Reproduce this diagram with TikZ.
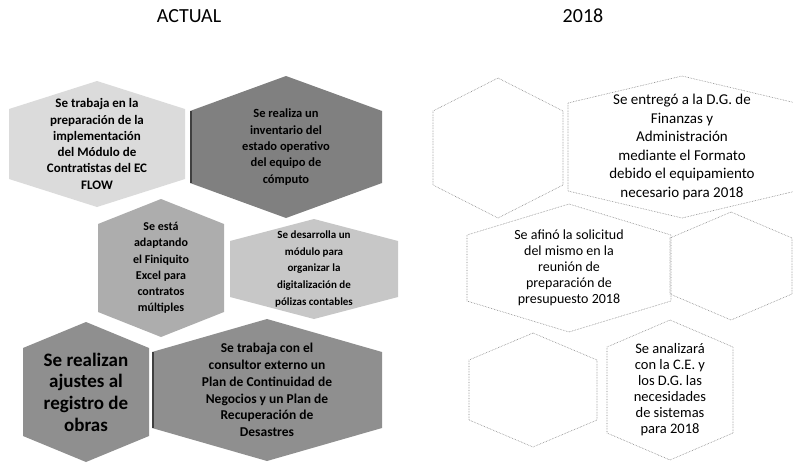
\documentclass[tikz,border=0pt]{standalone}
\usepackage{fontspec}
\setmainfont{Carlito}
\usetikzlibrary{calc,backgrounds}
\definecolor{celllight}{gray}{0.86}
\definecolor{cellmid}{gray}{0.68}
\definecolor{cellpale}{gray}{0.78}
\definecolor{celldark}{gray}{0.50}
\definecolor{celldeep}{gray}{0.56}
\tikzstyle{every node}+=[inner sep=0mm,align=center]
\tikzstyle{head}=[font=\fontsize{20}{24}\selectfont]
\tikzstyle{bold text}=[font=\bfseries\fontsize{12.5}{16.3}\selectfont]
\tikzstyle{big text}=[font=\bfseries\fontsize{19}{21.7}\selectfont]
\tikzstyle{plain text}=[font=\fontsize{14.5}{16}\selectfont]
\tikzstyle{open cell}=[draw=gray,densely dotted,line width=0.6pt]
\tikzstyle{shade edge}=[draw=black!75,line width=1.2pt]
% hexagon round a node: style, node, half width, half side, half height
\newcommand{\hexcell}[5]{%
  \path[#1] ($(#2)+(0,-#5)$) -- ($(#2)+(#3,-#4)$) -- ($(#2)+(#3,#4)$)
    -- ($(#2)+(0,#5)$) -- ($(#2)+(-#3,#4)$) -- ($(#2)+(-#3,-#4)$) -- cycle;}

\begin{document}
\begin{tikzpicture}[x=1pt,y=-1pt]
\useasboundingbox (0,0) rectangle (793,463);

\node[head] (actual) at (189,16) {ACTUAL};
\node[head] (year) at (583,16) {2018};

% actual
\node[bold text,font=\bfseries\fontsize{13}{16.3}\selectfont] (flow) at (97,144) {Se trabaja en la\\preparación de la\\implementación\\del Módulo de\\Contratistas del EC\\FLOW};
\node[bold text] (inv) at (286,147) {Se realiza un\\inventario del\\estado operativo\\del equipo de\\cómputo};
\node[bold text,font=\bfseries\fontsize{12}{16.2}\selectfont] (fin) at (161,268) {Se está\\adaptando\\el Finiquito\\Excel para\\contratos\\múltiples};
\node[bold text,font=\bfseries\fontsize{11}{16.7}\selectfont] (pol) at (314,269) {Se desarrolla un\\módulo para\\organizar la\\digitalización de\\pólizas contables};
\node[big text] (obras) at (86,392) {Se realizan\\ajustes al\\registro de\\obras};
\node[bold text,font=\bfseries\fontsize{13.5}{16.8}\selectfont] (plan) at (267,390) {Se trabaja con el\\consultor externo un\\Plan de Continuidad de\\Negocios y un Plan de\\Recuperación de\\Desastres};

% 2018
\coordinate (e1) at (498,148);
\node[plain text,font=\fontsize{15}{18.6}\selectfont] (equipo) at (682,147) {Se entregó a la D.G. de\\Finanzas y\\Administración\\mediante el Formato\\debido el equipamiento\\necesario para 2018};
\node[plain text,font=\fontsize{14}{16}\selectfont] (pres) at (569,268) {Se afinó la solicitud\\del mismo en la\\reunión de\\preparación de\\presupuesto 2018};
\coordinate (e2) at (731,266);
\coordinate (e3) at (533,390);
\node[plain text] (sis) at (670,390) {Se analizará\\con la C.E. y\\los D.G. las\\necesidades\\de sistemas\\para 2018};

\begin{scope}[on background layer]
\hexcell{fill=celllight}{flow}{88}{35}{63}
\hexcell{fill=celldark}{inv}{96}{36}{71}
\hexcell{fill=cellmid}{fin}{63}{44}{69}
\hexcell{fill=cellpale}{pol}{84}{28}{50}
\hexcell{fill=celldeep}{obras}{63}{44}{70}
\hexcell{fill=celldeep}{plan}{115}{38}{71}
\draw[shade edge] ($(inv)+(-95,-36)$) -- ($(inv)+(-95,36)$);
\draw[shade edge] ($(plan)+(-114,-38)$) -- ($(plan)+(-114,38)$);
\hexcell{open cell}{e1}{65}{37}{70}
\hexcell{open cell}{equipo}{114}{44}{71}
\hexcell{open cell}{pres}{102}{33}{64}
\hexcell{open cell}{e2}{61}{28}{54}
\hexcell{open cell}{e3}{64}{30}{57}
\hexcell{open cell}{sis}{63}{43}{70}
\end{scope}
\end{tikzpicture}
\end{document}
